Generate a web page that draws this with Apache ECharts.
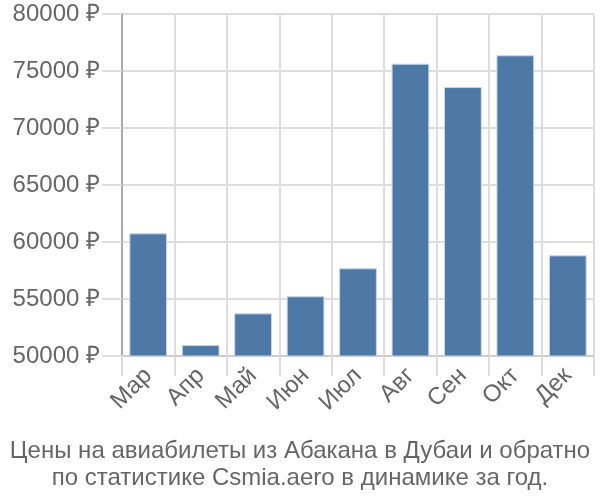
<!DOCTYPE html>
<html><head><meta charset="utf-8">
<script src="https://cdn.jsdelivr.net/npm/echarts@6/dist/echarts.min.js"></script>
<style>html,body{margin:0;padding:0;background:#fff}#c{width:600px;height:500px}</style>
</head><body><div id="c"></div>
<script>
const categories = ["Мар","Апр","Май","Июн","Июл","Авг","Сен","Окт","Дек"];
const prices = [60760, 50960, 53740, 55240, 57690, 75640, 73590, 76380, 58830];
const titleLines = ["Цены на авиабилеты из Абакана в Дубаи и обратно","по статистике Csmia.aero в динамике за год."];
const chart = echarts.init(document.getElementById('c'));
chart.setOption({
  animation:false,
  textStyle:{fontFamily:"Liberation Sans"},
  title:{text:titleLines.join("\n"),left:'center',top:433,
    textStyle:{fontSize:24,fontWeight:'normal',color:'#666',lineHeight:27,fontFamily:"Liberation Sans"}},
  grid:{left:122,right:6,top:14,bottom:144},
  xAxis:{type:'category',data:categories,
    axisLine:{lineStyle:{color:'#ccc',width:2}},
    axisTick:{show:true,length:20,alignWithLabel:false,lineStyle:{color:'#ddd',width:2}},
    splitLine:{show:true,lineStyle:{color:'#ddd',width:2}},
    axisLabel:{rotate:45,fontSize:24,color:'#666',margin:16}},
  yAxis:{type:'value',min:50000,max:80000,interval:5000,
    axisLine:{show:true,lineStyle:{color:'#aaa',width:2}},
    axisTick:{show:true,length:20,lineStyle:{color:'#ddd',width:2}},
    splitLine:{lineStyle:{color:'#ddd',width:2}},
    axisLabel:{fontSize:24,color:'#666',margin:22,formatter:v=>v+' ₽'}},
  series:[{type:'bar',data:prices,barCategoryGap:'28%',
    itemStyle:{color:'#4e78a6',borderColor:'#c9d6e6',borderWidth:1}}]
});
</script></body></html>
